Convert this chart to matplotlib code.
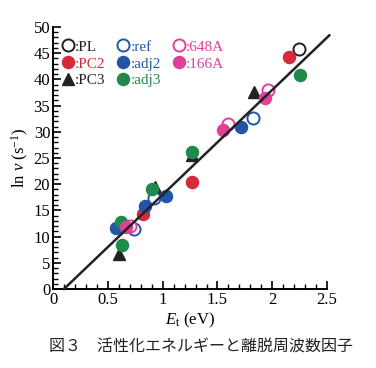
import matplotlib
matplotlib.use("Agg")
import matplotlib.pyplot as plt
from matplotlib.ticker import MultipleLocator
import numpy as np

plt.rcParams['font.family'] = ['Liberation Serif', 'DejaVu Serif']
plt.rcParams['mathtext.fontset'] = 'custom'
plt.rcParams['mathtext.rm'] = 'Liberation Serif'
plt.rcParams['mathtext.it'] = 'Liberation Serif:italic'

# data (E_t in eV, ln nu)
pl_x = [2.24]
pl_y = [45.8]
pc2_x = [2.15, 1.27, 0.82]
pc2_y = [44.3, 20.5, 14.4]
pc3_x = [1.83, 1.27, 0.93, 0.60]
pc3_y = [37.5, 25.6, 19.4, 6.6]
ref_x = [1.82, 0.92, 0.74]
ref_y = [32.6, 17.4, 11.5]
adj2_x = [1.71, 1.03, 0.84, 0.57]
adj2_y = [30.9, 17.7, 15.8, 11.6]
a648_x = [1.60, 1.96, 0.70]
a648_y = [31.4, 38.0, 12.0]
a166_x = [1.55, 1.93, 0.67]
a166_y = [30.3, 36.5, 11.8]
adj3_x = [2.25, 1.27, 0.90, 0.62, 0.63]
adj3_y = [40.9, 26.2, 19.1, 12.8, 8.3]
fit_x = [0.1, 2.52]
fit_slope = 20.0

c_black = '#222222'
c_red = '#d42a3c'
c_blue = '#2255a8'
c_pink = '#e0409a'
c_green = '#1f8a4c'

fig = plt.figure(figsize=(3.76, 3.68), dpi=100)
ax = fig.add_axes([0.141, 0.2147, 0.729, 0.712])

fx = np.array(fit_x)
ax.plot(fx, fit_slope * (fx - fit_x[0]), color=c_black, lw=1.8, zorder=5, clip_on=False)

ms = 8.7
h = []
h.append(ax.plot(pl_x, pl_y, 'o', ms=ms, mfc='white', mec=c_black, mew=1.4, ls='none', label=':PL', zorder=3)[0])
h.append(ax.plot(pc2_x, pc2_y, 'o', ms=ms, mfc=c_red, mec=c_red, ls='none', label=':PC2', zorder=4)[0])
h.append(ax.plot(pc3_x, pc3_y, '^', ms=ms, mfc=c_black, mec=c_black, ls='none', label=':PC3', zorder=3)[0])
h.append(ax.plot(ref_x, ref_y, 'o', ms=ms, mfc='white', mec=c_blue, mew=1.4, ls='none', label=':ref', zorder=3)[0])
h.append(ax.plot(adj2_x, adj2_y, 'o', ms=ms, mfc=c_blue, mec=c_blue, ls='none', label=':adj2', zorder=4)[0])
h.append(ax.plot(adj3_x, adj3_y, 'o', ms=ms, mfc=c_green, mec=c_green, ls='none', label=':adj3', zorder=4)[0])
h.append(ax.plot(a648_x, a648_y, 'o', ms=ms, mfc='white', mec=c_pink, mew=1.4, ls='none', label=':648A', zorder=3)[0])
h.append(ax.plot(a166_x, a166_y, 'o', ms=ms, mfc=c_pink, mec=c_pink, ls='none', label=':166A', zorder=4)[0])

leg = ax.legend(handles=h, ncol=3, loc='upper left', bbox_to_anchor=(-0.005, 0.985),
                frameon=False, handlelength=0.9, handletextpad=0.0, columnspacing=0.75,
                labelspacing=0.2, borderaxespad=0.2, fontsize=11,
                labelcolor=[c_black, c_red, c_black, c_blue, c_blue, c_green, c_pink, c_pink],
                markerscale=1.0)

ax.set_xlim(0, 2.5)
ax.set_ylim(0, 50)
ax.xaxis.set_major_locator(MultipleLocator(0.5))
ax.xaxis.set_minor_locator(MultipleLocator(0.1))
ax.yaxis.set_major_locator(MultipleLocator(5))
ax.yaxis.set_minor_locator(MultipleLocator(1))
ax.set_xticks([0, 0.5, 1, 1.5, 2, 2.5])
ax.set_xticklabels(['0', '0.5', '1', '1.5', '2', '2.5'])
ax.tick_params(which='major', direction='in', length=6, width=1.2, labelsize=12, pad=2)
ax.tick_params(which='minor', direction='in', length=3.5, width=1.0)
ax.spines['top'].set_visible(False)
ax.spines['right'].set_visible(False)
for s in ['left', 'bottom']:
    ax.spines[s].set_linewidth(1.4)

ax.set_xlabel(r'$\mathit{E}_{\mathrm{t}}$ (eV)', fontsize=12, labelpad=2)
ax.set_ylabel(r'ln $\mathit{\nu}$ (s$^{-1}$)', fontsize=12, labelpad=2)

fig.text(0.535, 0.057, '図３　活性化エネルギーと離脱周波数因子', ha='center', va='center',
         fontsize=11.5, family=['Noto Sans CJK JP', 'DejaVu Sans'], color='#222222')

fig.savefig('out.png', dpi=100)
